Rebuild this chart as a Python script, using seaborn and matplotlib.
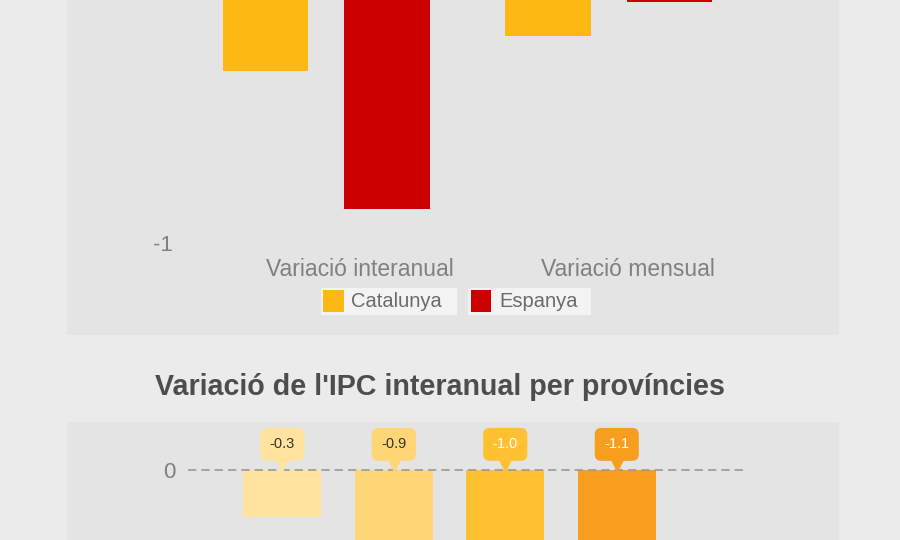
import pandas as pd
import matplotlib
matplotlib.use("Agg")
import matplotlib.pyplot as plt
import seaborn as sns
from matplotlib.patches import Rectangle
from matplotlib.transforms import ScaledTranslation

sns.set_style("white")
plt.rcParams['font.family'] = ['Liberation Sans', 'DejaVu Sans']

# dades gràfic superior (IPC Catalunya vs Espanya)
categories = ['Variació interanual', 'Variació mensual']
regions = ['Catalunya', 'Espanya']
catalunya = [-0.5, -0.4]
espanya = [-0.9, -0.3]
region_colors = ['#fdb813', '#cc0000']

# dades gràfic inferior (per províncies)
provinces = ['Barcelona', 'Tarragona', 'Girona', 'Lleida']
prov_values = [-0.3, -0.9, -1.0, -1.1]
prov_colors = ['#ffe39e', '#ffd676', '#ffc131', '#f89e1f']
prov_text = ['#333333', '#333333', 'white', 'white']

W, H = 900, 540
fig = plt.figure(figsize=(9, 5.4), dpi=100)
fig.patch.set_facecolor('#ebebeb')


def px_rect(x0, y0, x1, y1):
    # pixel box (origin top-left) -> figure fraction rect
    return [x0 / W, 1 - y1 / H, (x1 - x0) / W, (y1 - y0) / H]


def add_box(x0, y0, x1, y1, color):
    l, b, w, h = px_rect(x0, y0, x1, y1)
    fig.add_artist(Rectangle((l, b), w, h, transform=fig.transFigure,
                             facecolor=color, edgecolor='none', zorder=0))


# fons dels panells
add_box(67, -20, 839, 335, '#e4e4e4')
add_box(67, 422, 839, 600, '#e4e4e4')

# ---- gràfic superior ----
df1 = pd.DataFrame({
    'categoria': categories * 2,
    'regio': [regions[0]] * 2 + [regions[1]] * 2,
    'valor': catalunya + espanya,
})
ax1 = fig.add_axes(px_rect(185, -102, 750, 243))
ax1.set_facecolor('none')
sns.barplot(data=df1, x='categoria', y='valor', hue='regio', palette=region_colors,
            width=0.86, gap=0.3, saturation=1, legend=False, linewidth=0, ax=ax1)
ax1.set_xlim(-0.5, 1.5)
ax1.set_ylim(-1, 0)
ax1.set_yticks([-1])
ax1.set_yticklabels(['-1'])
ax1.tick_params(axis='y', length=0, pad=9, labelsize=16, labelcolor='#808080')
ax1.tick_params(axis='x', length=0, pad=11, labelsize=16.5, labelcolor='#808080')
for lab, dx in zip(ax1.get_xticklabels(), [34, 19]):
    lab.set_transform(lab.get_transform() + ScaledTranslation(dx / 100, 0, fig.dpi_scale_trans))
ax1.set_xlabel('')
ax1.set_ylabel('')
sns.despine(ax=ax1, left=True, bottom=True)

# llegenda
add_box(321, 288, 457, 315, '#f3f3f3')
add_box(323, 290, 344, 312, region_colors[0])
fig.text(351 / W, 1 - 301.5 / H, regions[0], fontsize=14.5, color='#6b6b6b', va='center')
add_box(468, 288, 591, 315, '#f3f3f3')
add_box(471, 290, 491, 312, region_colors[1])
fig.text(499 / W, 1 - 301.5 / H, regions[1], fontsize=14.5, color='#6b6b6b', va='center')

# títol
fig.text(440 / W, 1 - 387 / H, "Variació de l'IPC interanual per províncies",
         fontsize=20.6, fontweight='bold', color='#4d4d4d', ha='center', va='center')

# ---- gràfic inferior ----
df2 = pd.DataFrame({'provincia': provinces, 'valor': prov_values})
ax2 = fig.add_axes(px_rect(187.5, 423, 745, 658.4))
ax2.set_facecolor('none')
sns.barplot(data=df2, x='provincia', y='valor', hue='provincia', palette=prov_colors,
            width=0.7, saturation=1, legend=False, linewidth=0, ax=ax2)
ax2.set_xlim(-0.85, 4.15)
ax2.set_ylim(-1.2, 0.3)
ax2.set_yticks([0])
ax2.set_yticklabels(['0'])
ax2.tick_params(axis='y', length=0, pad=9, labelsize=16, labelcolor='#808080')
ax2.tick_params(axis='x', length=0, labelbottom=False)
ax2.set_xlabel('')
ax2.set_ylabel('')
sns.despine(ax=ax2, left=True, bottom=True)
ax2.axhline(0, color='#999999', lw=1.2, ls=(0, (5, 3)), zorder=3)

# etiquetes tipus "tooltip"
tri = ax2.transData + ScaledTranslation(0, 5 / 100, fig.dpi_scale_trans)
for i, (v, c, tc) in enumerate(zip(prov_values, prov_colors, prov_text)):
    ax2.plot([i], [0], marker='v', ms=9, color=c, transform=tri, clip_on=False, zorder=4)
    ax2.annotate(f'{v:.1f}', xy=(i, 0), xytext=(0, 18.5), textcoords='offset points',
                 ha='center', va='center', fontsize=10.5, color=tc, zorder=5,
                 bbox=dict(boxstyle='round,pad=0.65,rounding_size=0.45', fc=c, ec='none'))

fig.savefig('out.png', dpi=100, facecolor=fig.get_facecolor())
